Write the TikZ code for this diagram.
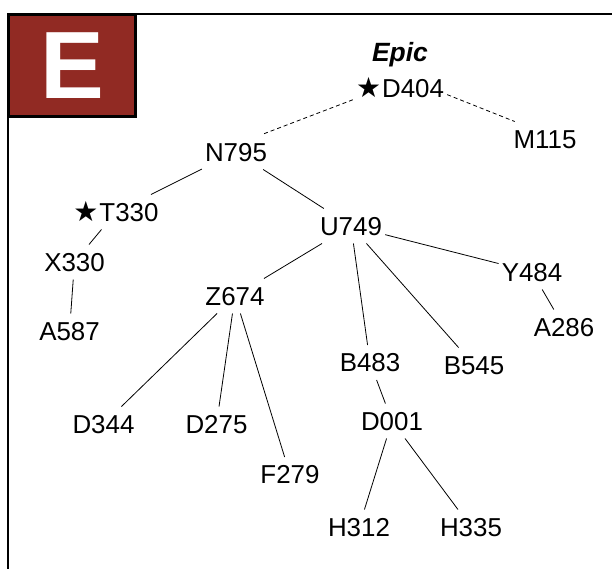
\documentclass[tikz,border=0pt]{standalone}
\usepackage{fontspec}
\setmainfont{Liberation Sans}
\newfontfamily\starfont{DejaVu Sans}
\definecolor{BadgeRed}{RGB}{145,42,35}
\tikzset{
  nd_lbl/.style={rectangle,inner xsep=3bp,inner ysep=8bp,text height=18.6bp,text depth=0pt,font=\fontsize{26}{30}\selectfont},
  ln/.style={line width=0.8bp},
  ln_dash/.style={line width=0.8bp,dash pattern=on 4bp off 3bp},
}
\newcommand{\favmark}{{\starfont\fontsize{28}{30}\selectfont ★}\hspace{1bp}}

\begin{document}
\begin{tikzpicture}[x=1bp,y=-1bp]
\useasboundingbox (0,0) rectangle (612,569);
% frame + badge
\draw[line width=2.5bp] (8,569) -- (8,14) -- (612,14);
\node[draw=black,line width=3bp,fill=BadgeRed,minimum width=127bp,minimum height=102bp,inner sep=0pt,
      font=\fontsize{96}{96}\selectfont\bfseries,text=white] at (72,65.5)(badge){E};
\node[nd_lbl,font=\fontsize{26.5}{30}\selectfont\bfseries\itshape] at (400,52.7)(epic){Epic};
% tree
\node[nd_lbl] at (400,88)(D404){\favmark D404};
\node[nd_lbl] at (545,139)(M115){M115};
\node[nd_lbl] at (236,152)(N795){N795};
\node[nd_lbl] at (116,212)(T330){\favmark T330};
\node[nd_lbl] at (351,226)(U749){U749};
\node[nd_lbl] at (74.5,262)(X330){X330};
\node[nd_lbl] at (532,272)(Y484){Y484};
\node[nd_lbl] at (235,296)(Z674){Z674};
\node[nd_lbl] at (69.5,331)(A587){A587};
\node[nd_lbl] at (564,327)(A286){A286};
\node[nd_lbl] at (370,362.5)(B483){B483};
\node[nd_lbl] at (474,365)(B545){B545};
\node[nd_lbl] at (103.5,424)(D344){D344};
\node[nd_lbl] at (216.5,424)(D275){D275};
\node[nd_lbl] at (392,421)(D001){D001};
\node[nd_lbl] at (290,474.5)(F279){F279};
\node[nd_lbl] at (359,527)(H312){H312};
\node[nd_lbl] at (471,527)(H335){H335};
% links
\draw[ln_dash](D404.194)--(N795.34);
\draw[ln_dash](D404.-8)--(M115.150);
\foreach \a/\b in {N795/T330,N795/U749,T330/X330,X330/A587,U749/Z674,U749/Y484,U749/B483,U749/B545,
                   Y484/A286,Z674/D344,Z674/D275,Z674/F279,B483/D001,D001/H312,D001/H335}{\draw[ln](\a)--(\b);}
\end{tikzpicture}
\end{document}
